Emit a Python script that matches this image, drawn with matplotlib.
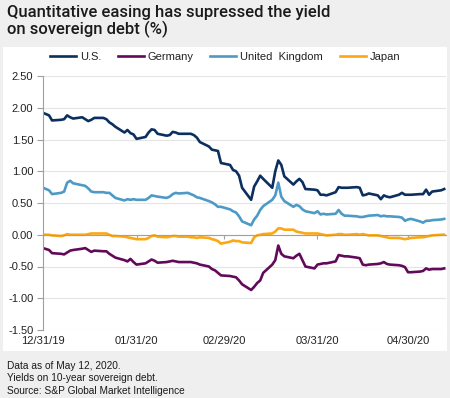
import matplotlib
matplotlib.use("Agg")
import matplotlib.pyplot as plt
import matplotlib.dates as mdates
from matplotlib.patches import Rectangle
import pandas as pd

# business days 12/31/19 .. 05/12/20 (new year's day dropped)
dates = pd.bdate_range("2019-12-31", "2020-05-12").drop(pd.Timestamp("2020-01-01"))

us = [1.92, 1.88, 1.80,
      1.81, 1.82, 1.88, 1.85, 1.83,
      1.85, 1.82, 1.79, 1.81, 1.84,
      1.84, 1.82, 1.77, 1.74, 1.70,
      1.61, 1.65, 1.60, 1.58, 1.51,
      1.54, 1.61, 1.66, 1.65, 1.59,
      1.56, 1.57, 1.62, 1.61, 1.59,
      1.59, 1.59, 1.57, 1.53, 1.46,
      1.39, 1.34, 1.33, 1.32, 1.13,
      1.10, 1.02, 1.00, 0.93, 0.74,
      0.55, 0.76, 0.84, 0.93, 0.88,
      0.74, 1.00, 1.17, 1.10, 0.92,
      0.79, 0.84, 0.88, 0.83, 0.72,
      0.71, 0.70, 0.63, 0.63, 0.62,
      0.67, 0.75, 0.74, 0.74, 0.74,
      0.75, 0.74, 0.62, 0.63, 0.65,
      0.62, 0.56, 0.62, 0.60, 0.59,
      0.63, 0.66, 0.63, 0.63, 0.63,
      0.64, 0.64, 0.71, 0.63, 0.68,
      0.70, 0.72]

germany = [-0.21, -0.24, -0.29,
           -0.30, -0.31, -0.28, -0.25, -0.24,
           -0.22, -0.21, -0.24, -0.27, -0.25,
           -0.26, -0.26, -0.30, -0.33, -0.36,
           -0.40, -0.42, -0.38, -0.43, -0.47,
           -0.45, -0.42, -0.39, -0.41, -0.44,
           -0.43, -0.42, -0.41, -0.42, -0.43,
           -0.43, -0.43, -0.44, -0.45, -0.47,
           -0.50, -0.54, -0.56, -0.60, -0.64,
           -0.65, -0.66, -0.67, -0.72, -0.78,
           -0.87, -0.82, -0.76, -0.72, -0.60,
           -0.47, -0.40, -0.17, -0.30, -0.34,
           -0.37, -0.33, -0.30, -0.40, -0.50,
           -0.53, -0.47, -0.46, -0.45, -0.45,
           -0.42, -0.32, -0.33, -0.34, -0.34,
           -0.36, -0.37, -0.47, -0.48, -0.47,
           -0.46, -0.45, -0.43, -0.46, -0.47,
           -0.48, -0.49, -0.51, -0.59, -0.59,
           -0.58, -0.57, -0.53, -0.55, -0.54,
           -0.54, -0.53]

uk = [0.74, 0.70, 0.64,
      0.66, 0.68, 0.82, 0.85, 0.81,
      0.78, 0.77, 0.73, 0.68, 0.67,
      0.67, 0.66, 0.66, 0.62, 0.58,
      0.54, 0.56, 0.55, 0.56, 0.55,
      0.55, 0.58, 0.62, 0.61, 0.60,
      0.58, 0.60, 0.64, 0.66, 0.65,
      0.66, 0.64, 0.62, 0.59, 0.58,
      0.53, 0.51, 0.48, 0.44, 0.44,
      0.40, 0.37, 0.35, 0.29, 0.21,
      0.15, 0.24, 0.30, 0.39, 0.45,
      0.55, 0.62, 0.82, 0.60, 0.53,
      0.44, 0.47, 0.45, 0.40, 0.37,
      0.34, 0.37, 0.32, 0.33, 0.32,
      0.33, 0.39, 0.33, 0.30, 0.30,
      0.29, 0.28, 0.28, 0.29, 0.30,
      0.31, 0.29, 0.30, 0.29, 0.29,
      0.28, 0.27, 0.22, 0.24, 0.25,
      0.21, 0.19, 0.22, 0.22, 0.23,
      0.24, 0.25]

japan = [0.00, 0.00, -0.01,
         -0.02, -0.01, 0.01, 0.00, 0.00,
         0.00, 0.00, 0.01, 0.02, 0.02,
         0.02, 0.02, 0.00, -0.02, -0.02,
         -0.03, -0.04, -0.05, -0.06, -0.07,
         -0.07, -0.05, -0.02, -0.01, -0.03,
         -0.04, -0.03, -0.02, -0.02, -0.03,
         -0.03, -0.04, -0.04, -0.05, -0.04,
         -0.05, -0.07, -0.08, -0.10, -0.14,
         -0.11, -0.09, -0.10, -0.10, -0.12,
         -0.13, -0.04, -0.01, 0.00, 0.01,
         0.02, 0.05, 0.10, 0.10, 0.08,
         0.08, 0.05, 0.04, 0.03, 0.02,
         0.02, 0.02, 0.01, 0.00, -0.01,
         0.00, 0.01, 0.01, 0.00, 0.00,
         0.01, 0.00, 0.01, 0.00, -0.01,
         -0.01, -0.02, -0.03, -0.04, -0.05,
         -0.05, -0.06, -0.07, -0.06, -0.05,
         -0.04, -0.04, -0.03, -0.02, -0.01,
         0.00, 0.00]

series_names = ["U.S.", "Germany", "United  Kingdom", "Japan"]
series_colors = ["#0b2f5e", "#620a59", "#4d9ac6", "#fca714"]
tick_dates = pd.to_datetime(["2019-12-31", "2020-01-31", "2020-02-29",
                             "2020-03-31", "2020-04-30"])
y_ticks = [-1.5, -1.0, -0.5, 0.0, 0.5, 1.0, 1.5, 2.0, 2.5]

plt.rcParams["font.family"] = ["Liberation Sans", "DejaVu Sans"]
plt.rcParams["axes.unicode_minus"] = False

fig = plt.figure(figsize=(4.5, 3.98), dpi=100, facecolor="#efefef")
fig.patches.append(Rectangle((3 / 450, 1 - 351 / 398), 444 / 450, 304 / 398,
                             transform=fig.transFigure, facecolor="white",
                             edgecolor="none", zorder=-5))

ax = fig.add_axes([43 / 450, 1 - 330 / 398, 402.7 / 450, 254 / 398])
ax.set_facecolor("white")

for vals, name, col in zip([us, germany, uk, japan], series_names, series_colors):
    ax.plot(dates, vals, color=col, lw=1.9, label=name, solid_joinstyle="round")

ax.set_ylim(-1.5, 2.5)
ax.set_xlim(pd.Timestamp("2019-12-31"), pd.Timestamp("2019-12-31") + pd.Timedelta(days=133.5))
ax.set_yticks(y_ticks)
ax.set_yticklabels([f"{v:.2f}" for v in y_ticks])
ax.grid(axis="y", color="#e4e4e4", lw=0.8)
ax.set_axisbelow(True)

for s in ["top", "right"]:
    ax.spines[s].set_visible(False)
ax.spines["left"].set_color("#a0a0a0")
ax.spines["bottom"].set_position(("data", 0))
ax.spines["bottom"].set_color("#a0a0a0")
ax.tick_params(axis="y", length=4, color="#a0a0a0", labelsize=8, pad=3, labelcolor="#222222")
ax.set_xticks(tick_dates)
ax.tick_params(axis="x", length=3, direction="out", color="#a0a0a0", labelbottom=False)

sec = ax.secondary_xaxis("bottom")
sec.set_xticks(tick_dates)
sec.xaxis.set_major_formatter(mdates.DateFormatter("%m/%d/%y"))
sec.tick_params(length=0, labelsize=8, pad=4, labelcolor="#222222")
sec.spines["bottom"].set_visible(False)

fig.legend(loc="center", bbox_to_anchor=(0.5, 1 - 57 / 398), ncol=4, frameon=False,
           fontsize=8, handlelength=2.35, handletextpad=0.35, columnspacing=1.5,
           labelcolor="#222222")

fig.text(7 / 450, 1 - 5 / 398, "Quantitative easing has supressed the yield\non sovereign debt (%)",
         ha="left", va="top", fontsize=12, color="#1a1a1a", linespacing=1.1,
         family=["Roboto", "DejaVu Sans"], weight="medium")

fig.text(7 / 450, 1 - 361 / 398,
         "Data as of May 12, 2020.\nYields on 10-year sovereign debt.\nSource: S&P Global Market Intelligence",
         ha="left", va="top", fontsize=7.3, color="#1a1a1a", linespacing=1.3)

fig.savefig("out.png", dpi=100, facecolor=fig.get_facecolor())
